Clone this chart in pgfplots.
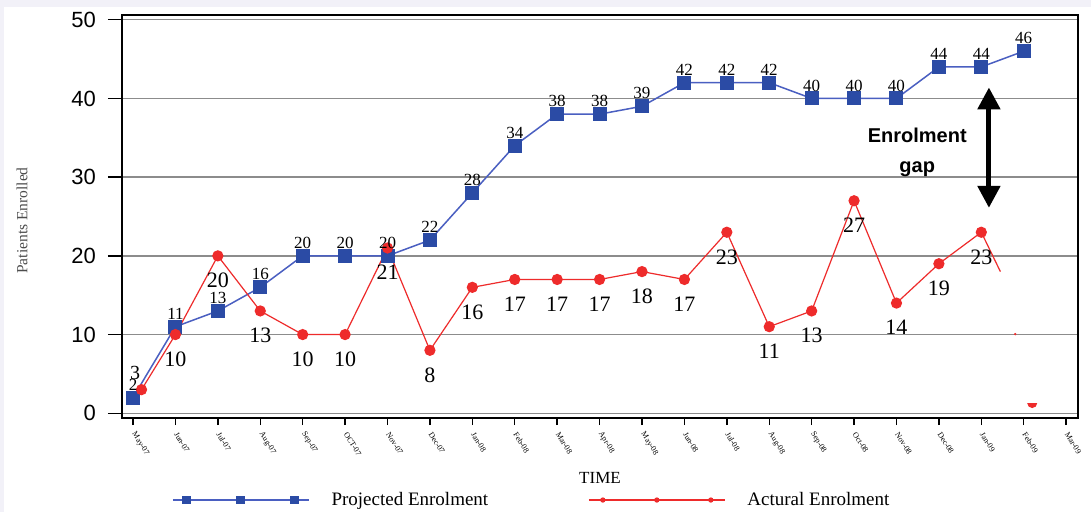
\documentclass[border=0pt]{standalone}
\usepackage{pgfplots}
\pgfplotsset{compat=1.18}
\usepackage{fontspec}
\setmainfont{Liberation Serif}
\newfontfamily\tickfont{Liberation Sans}
\usetikzlibrary{arrows.meta}
\definecolor{projline}{HTML}{4A5FC1}
\definecolor{projmark}{HTML}{2B4BA5}
\definecolor{actred}{HTML}{EE2B2B}
\definecolor{bglav}{HTML}{F2F1F8}
\pgfdeclareplotmark{lowerhalf}{%
  \pgfpathmoveto{\pgfpoint{-\pgfplotmarksize}{0pt}}%
  \pgfpatharc{180}{360}{\pgfplotmarksize}%
  \pgfpathclose
  \pgfusepathqfill}
\pgfplotsset{
  projlegend/.style={legend image code/.code={
    \draw[##1, mark=none] (0pt,0pt) -- (136pt,0pt);
    \draw[##1, every mark/.append style={scale=0.6}] plot coordinates {(14pt,0pt) (68pt,0pt) (122pt,0pt)};
  }},
  actlegend/.style={legend image code/.code={
    \draw[##1, mark=none] (0pt,0pt) -- (136pt,0pt);
    \draw[##1, every mark/.append style={scale=0.4}] plot coordinates {(14pt,0pt) (68pt,0pt) (122pt,0pt)};
  }},
}
\pgfplotstableread{
x y
0 2
1 11
2 13
3 16
4 20
5 20
6 20
7 22
8 28
9 34
10 38
11 38
12 39
13 42
14 42
15 42
16 40
17 40
18 40
19 44
20 44
21 46
}\projected
\pgfplotstableread{
x y
0.2 3
1 10
2 20
3 13
4 10
5 10
6 21
7 8
8 16
9 17
10 17
11 17
12 18
13 17
14 23
15 11
16 13
17 27
18 14
19 19
20 23
}\actual
\pgfplotstableread{
x y
1 10
2 20
3 13
4 10
5 10
6 21
7 8
8 16
9 17
10 17
11 17
12 18
13 17
14 23
15 11
16 13
17 27
18 14
19 19
20 23
}\actuallab
\begin{document}
\begin{tikzpicture}
\useasboundingbox (-122pt,-94pt) rectangle (969pt,418pt);
\fill[bglav] (-122pt,-94pt) rectangle (969pt,418pt);
\fill[white] (-118pt,-94pt) rectangle (969pt,411pt);
\begin{axis}[
  scale only axis, width=956pt, height=403pt,
  at={(0pt,0pt)}, anchor=south west,
  xmin=-0.26, xmax=22.28, ymin=-0.6, ymax=50.6,
  xtick={0,...,22},
  xticklabels={May-07,Jun-07,Jul-07,Aug-07,Sep-07,OCT-07,Nov-07,Dec-07,Jan-08,Feb-08,Mar-08,Apr-08,May-08,Jun-08,Jul-08,Aug-08,Sep-08,Oct-08,Nov-08,Dec-08,Jan-09,Feb-09,Mar-09},
  ytick={0,10,...,50},
  xtick pos=bottom, ytick pos=left,
  /pgf/number format/assume math mode=true,
  ymajorgrids, grid style={black!45, line width=1.3pt},
  axis line style={black, line width=1.6pt},
  tick align=outside,
  major tick length=14pt,
  tick style={black, line width=1.4pt},
  xtick style={/pgfplots/major tick length=7pt},
  yticklabel style={font=\tickfont\fontsize{22}{22}\selectfont, inner sep=0pt, xshift=-12pt},
  xticklabel style={font=\fontsize{8}{8}\selectfont, rotate=-58, anchor=west, inner sep=1pt},
  xlabel={TIME},
  xlabel style={font=\fontsize{17}{17}\selectfont, at={(axis description cs:0.5,-0.149)}, anchor=center},
  ylabel={Patients Enrolled},
  ylabel style={font=\fontsize{15.5}{15.5}\selectfont, text=black!70, at={(axis description cs:-0.1046,0.49)}, anchor=center},
  clip=false,
  legend columns=2,
  legend style={at={(axis description cs:0.049,-0.2035)}, anchor=west, draw=none, fill=none,
    font=\fontsize{19}{19}\selectfont,
    /tikz/every even column/.append style={column sep=98pt},
    /tikz/every odd column/.append style={column sep=20pt}},
]
\addplot[color=projline, line width=1.5pt, mark=square*, mark size=6.5pt,
  mark options={fill=projmark, draw=projmark, line width=0pt}, projlegend] table[x=x,y=y] {\projected};
\addlegendentry{Projected Enrolment}
\addplot[color=actred, line width=1.2pt, mark=*, mark size=5pt,
  mark options={fill=actred, draw=actred}, actlegend] table[x=x,y=y] {\actual};
\addlegendentry{Actural Enrolment}
% truncated tail of actual series
\addplot[forget plot, color=actred, line width=1.2pt, mark=none] coordinates {(20,23) (20.45,18)};
\addplot[forget plot, only marks, mark=lowerhalf, mark size=5pt, color=actred] coordinates {(21.2,1.3)};
\addplot[forget plot, only marks, mark=*, mark size=1pt, color=actred] coordinates {(20.8,10.05)};
% labels
\addplot[forget plot, draw=none, mark=none, nodes near coords,
  point meta=explicit,
  nodes near coords style={font=\fontsize{17}{17}\selectfont, text=black, anchor=south, inner sep=0pt, yshift=7pt}]
  table[x=x,y=y,meta=y] {\projected};
\addplot[forget plot, draw=none, mark=none, nodes near coords,
  point meta=explicit,
  nodes near coords style={font=\fontsize{22}{22}\selectfont, text=black, anchor=north, inner sep=0pt, yshift=-17pt}]
  table[x=x,y=y,meta=y] {\actuallab};
\addplot[forget plot, draw=none, mark=none, nodes near coords,
  point meta=explicit,
  nodes near coords style={font=\fontsize{20}{20}\selectfont, text=black, anchor=south, inner sep=0pt, yshift=10pt}]
  coordinates {(0.05,3) [3]};
% annotation
\node[font=\fontsize{20}{30}\selectfont\tickfont\bfseries, align=center] at (axis cs:18.49,33.1) {Enrolment\\gap};
\draw[line width=5pt, {Triangle[width=22pt,length=22pt]}-{Triangle[width=22pt,length=22pt]}]
  (axis cs:20.18,41.4) -- (axis cs:20.18,26.1);
\end{axis}
\end{tikzpicture}
\end{document}
